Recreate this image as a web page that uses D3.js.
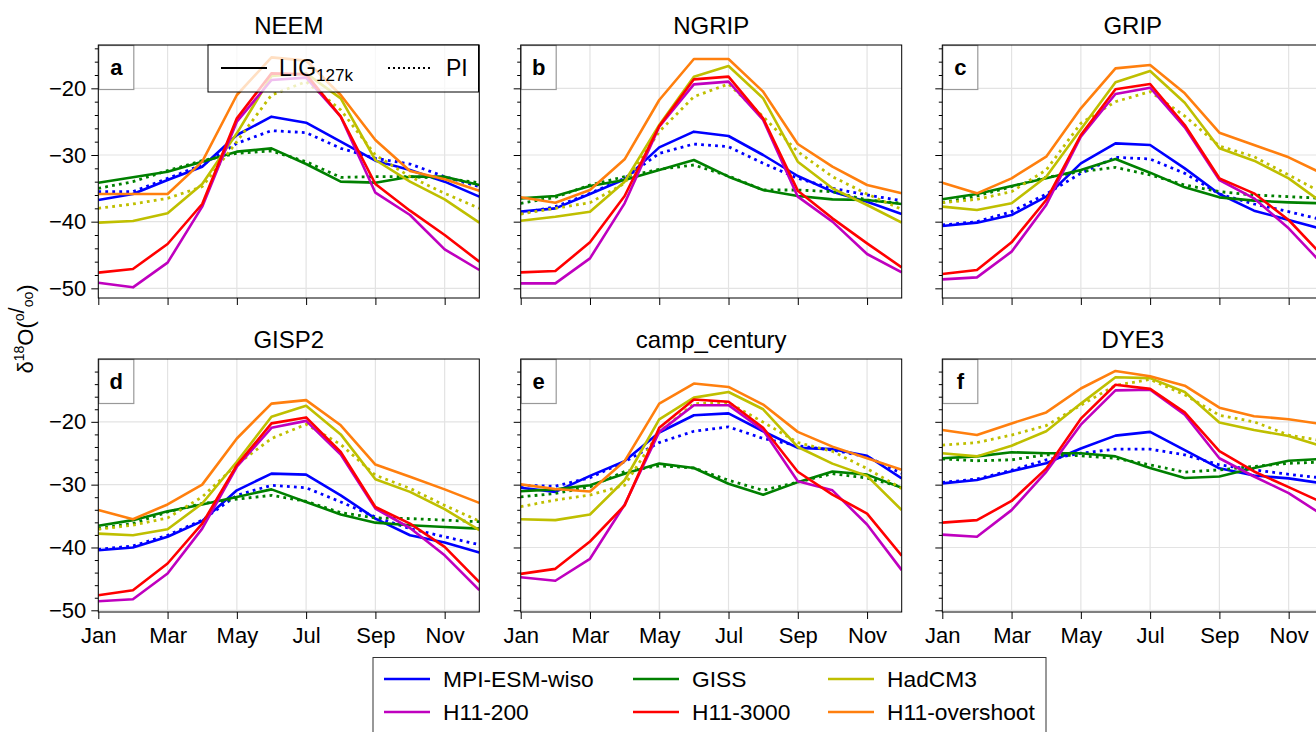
<!DOCTYPE html>
<html><head><meta charset="utf-8">
<script src="https://cdn.jsdelivr.net/npm/d3@7"></script>
<style>
body{margin:0;background:#fff;}
svg{display:block;font-family:"Liberation Sans",Arial,Helvetica,sans-serif;}
</style></head>
<body><svg id="chart" width="1316" height="732"></svg>
<script>
const months = ["Jan","Feb","Mar","Apr","May","Jun","Jul","Aug","Sep","Oct","Nov","Dec"];
const tickMonths = ["Jan","Mar","May","Jul","Sep","Nov"];
const sites = ["NEEM","NGRIP","GRIP","GISP2","camp_century","DYE3"];
const letters = ["a","b","c","d","e","f"];
const models = ["MPI-ESM-wiso","GISS","HadCM3","H11-200","H11-3000","H11-overshoot"];
const colors = ["#0000ff","#008000","#bfbf00","#bf00bf","#ff0000","#ff7f0e"];
const yTicksMajor = [-20,-30,-40,-50];

// LIG127k rows: MPI, GISS, HadCM3, H11-200, H11-3000, H11-overshoot
const neemLIG = [
 [-36.75,-35.85,-33.75,-31.75,-27,-24.25,-25.15,-28,-30.85,-32.25,-34,-36.25],
 [-34.15,-33.35,-32.5,-31,-29.5,-29,-31.35,-34,-34.15,-33.25,-33.25,-34.5],
 [-40.15,-39.9,-38.75,-34.35,-26.75,-18.15,-17.75,-21.5,-30.75,-34,-36.65,-40.15],
 [-49.15,-49.85,-46.15,-37.75,-25,-18.75,-18.4,-24.25,-35.65,-39,-44.15,-47.25],
 [-47.65,-47.1,-43.35,-37.35,-24.5,-17.75,-17.9,-24.25,-34.35,-38.35,-42,-46],
 [-35.85,-35.85,-35.85,-31,-21,-15.35,-15.85,-21,-27.75,-32.4,-33.65,-35.35]
];
// PI rows: MPI, GISS, HadCM3
const neemPI = [
 [-35.5,-35.5,-33.5,-31.5,-28.25,-26.35,-26.65,-29,-30.5,-31.35,-33.25,-34.75],
 [-35,-34,-32.35,-30.85,-29.75,-29.4,-31,-33.35,-33.25,-33.25,-33.5,-34.15],
 [-38,-37.35,-36.5,-34.75,-28,-21,-19,-23.25,-30,-33.25,-35.75,-38]
];
const ngripLIG = [
 [-38.5,-38,-35.85,-33.65,-28.85,-26.5,-27.15,-30,-33.15,-35.5,-37,-38.85],
 [-36.5,-36.15,-34.65,-33.75,-32.25,-30.75,-33.25,-35.25,-36.15,-36.65,-36.75,-37.35],
 [-39.85,-39.25,-38.5,-34,-25.5,-18.25,-16.65,-21.5,-31,-35,-37.5,-40.15],
 [-49.25,-49.25,-45.5,-37.25,-25.75,-19.4,-19,-24.75,-36.25,-40,-44.85,-47.6],
 [-47.6,-47.4,-43.1,-36.15,-25.65,-18.65,-18.25,-24.5,-35.35,-39.5,-43.25,-46.85],
 [-36.35,-37.15,-35.25,-30.65,-21.75,-15.6,-15.6,-20.5,-28.35,-31.75,-34.5,-35.75]
];
const ngripPI = [
 [-38.75,-37.75,-35.75,-33.5,-29.75,-28.35,-28.75,-31.25,-33.5,-35,-36,-36.85],
 [-37.25,-36.35,-34.5,-33.25,-32.15,-31.5,-33.15,-35.25,-35.25,-35.5,-36.75,-37.25],
 [-38.85,-38,-37.15,-34.25,-26.5,-21.25,-19.35,-24.25,-29.5,-33.25,-35.85,-38.15]
];
const gripLIG = [
 [-40.65,-40.15,-39,-36.25,-31.25,-28.25,-28.5,-32,-35.85,-38.35,-39.75,-41.15],
 [-36.65,-35.85,-34.65,-33.5,-32.25,-30.6,-32.65,-34.85,-36.35,-36.85,-37.1,-37.25],
 [-37.75,-38.25,-37.25,-33.25,-26.15,-19.1,-17.4,-22.15,-29,-30.85,-33.5,-37.25],
 [-48.65,-48.35,-44.5,-37.5,-27.25,-20.85,-19.9,-25.85,-33.75,-36.5,-41,-46.5],
 [-47.85,-47.25,-43.1,-36.75,-27,-20.15,-19.35,-25.5,-33.5,-35.75,-39.75,-45.25],
 [-34.15,-35.75,-33.5,-30.25,-23,-17,-16.5,-20.75,-26.65,-28.5,-30.35,-32.85]
];
const gripPI = [
 [-40.5,-40,-38.5,-35.85,-32.75,-30.35,-30.6,-32.75,-35.85,-37.35,-38.5,-39.75],
 [-37.15,-36.15,-34.75,-33.35,-32.5,-31.85,-33,-34.5,-35.5,-36,-36.25,-36.5],
 [-37.15,-36.65,-35.5,-32.25,-25.25,-22,-20.5,-24.15,-28.65,-30.25,-33,-35.75]
];
const gisp2LIG = [
 [-40.45,-40,-38.3,-35.8,-30.9,-28.25,-28.4,-31.7,-35.4,-38.05,-39.2,-40.8],
 [-36.55,-35.65,-34.25,-33.15,-31.95,-30.75,-32.75,-34.75,-36.05,-36.45,-36.75,-37],
 [-37.8,-38.05,-37.1,-33,-26.35,-19.2,-17.45,-22,-29.15,-31.15,-33.9,-37.25],
 [-48.55,-48.25,-44.15,-37,-27.15,-20.95,-19.85,-25.2,-33.8,-36.9,-41.25,-46.8],
 [-47.6,-46.8,-42.55,-36.2,-26.9,-20.25,-19.3,-24.8,-33.55,-36.2,-39.9,-45.5],
 [-34.05,-35.5,-33.15,-30,-22.65,-17.1,-16.55,-20.55,-26.8,-28.75,-30.75,-32.9]
];
const gisp2PI = [
 [-40.3,-39.75,-38.05,-35.65,-31.7,-30.1,-30.5,-32.75,-35.15,-37,-38.3,-39.55],
 [-37,-36.2,-34.35,-33,-32.3,-31.7,-32.65,-34.45,-35.3,-35.4,-35.65,-35.9],
 [-37.1,-36.45,-35.3,-31.95,-26.8,-22.65,-20.4,-23.6,-28.5,-30.6,-33.3,-35.8]
];
const campLIG = [
 [-30.5,-31.15,-28.6,-26.25,-21.7,-18.95,-18.65,-21.5,-24.15,-24.35,-25.4,-29],
 [-31.05,-30.75,-30.1,-28.25,-26.65,-27.35,-29.85,-31.6,-29.6,-27.9,-28.4,-30.5],
 [-35.5,-35.65,-34.75,-29.3,-19.6,-16.15,-15.25,-18,-24,-26.65,-28.6,-34.05],
 [-44.75,-45.3,-41.8,-33.2,-21.6,-17.35,-17.35,-21.35,-29.45,-30.9,-36.35,-43.6],
 [-44.2,-43.4,-39.05,-33.3,-20.95,-16.45,-16.8,-20.95,-27.95,-31.6,-34.6,-41.3],
 [-29.95,-30.7,-31.1,-26.25,-17.1,-13.9,-14.45,-17.25,-21.6,-23.95,-25.8,-27.65]
];
const campPI = [
 [-30.1,-30.25,-28.9,-26.35,-23.3,-21.5,-20.8,-22.65,-23.8,-24.5,-25.55,-28.2],
 [-31.95,-31.4,-30.35,-27.9,-27,-27.35,-29.3,-30.9,-29.6,-28.25,-28.95,-30.35],
 [-33.5,-32.45,-31.65,-30.1,-21.6,-17.1,-16.95,-20.05,-23.3,-24.7,-27.45,-30.6]
];
const dye3LIG = [
 [-29.8,-29.25,-27.85,-26.6,-24.25,-22.2,-21.6,-24.5,-27.4,-28.55,-29,-29.8],
 [-25.8,-25.5,-24.85,-25,-25,-25.5,-27.35,-28.95,-28.7,-27.35,-26.2,-25.9],
 [-25,-25.5,-23.8,-21.5,-17.1,-12.9,-13.05,-15.25,-20.1,-21.3,-22.25,-23.95],
 [-37.95,-38.3,-34.05,-27.95,-20.45,-15,-14.9,-18.85,-25.8,-28.7,-31.35,-34.9],
 [-36.05,-35.65,-32.6,-27.45,-19.5,-14.1,-14.75,-18.5,-24.65,-27.9,-30.4,-32.9],
 [-21.3,-22.1,-20.25,-18.5,-14.7,-11.9,-12.75,-14.25,-17.75,-19.1,-19.6,-20.4]
];
const dye3PI = [
 [-29.65,-29.1,-27.7,-26.05,-25,-24.35,-24.35,-25.25,-26.85,-27.65,-28.35,-28.95],
 [-25.9,-26.2,-26.05,-25.25,-25.4,-25.8,-26.85,-28,-27.65,-27.1,-26.6,-26.4],
 [-23.7,-23.3,-22.1,-20.6,-17.35,-14.2,-13.25,-15.7,-18.95,-20,-22.1,-23.05]
];

const ligData = [neemLIG, ngripLIG, gripLIG, gisp2LIG, campLIG, dye3LIG];
const piData = [neemPI, ngripPI, gripPI, gisp2PI, campPI, dye3PI];

const svg = d3.select("#chart");
const pw = 381, ph = 253;
const colX = [98.3, 520.7, 942.3];
const rowY = [45, 359];
const rowDomain = [[-51.45, -13.5], [-50.27, -10]];
const FONT = "Liberation Sans, Arial, sans-serif";

const line = (x, y) => d3.line().x((d, i) => x(i)).y(d => y(d));
const panelGroups = [];

sites.forEach((site, k) => {
  const r = Math.floor(k / 3), c = k % 3;
  const x0 = colX[c], y0 = rowY[r];
  const g = svg.append("g");
  panelGroups.push(g);
  const x = d3.scaleLinear().domain([0, 11]).range([x0, x0 + pw]);
  const y = d3.scaleLinear().domain(rowDomain[r]).range([y0 + ph, y0]);
  const tickIdx = tickMonths.map(m => months.indexOf(m));

  // grid
  g.append("g").selectAll("line").data(tickIdx).join("line")
    .attr("x1", d => x(d)).attr("x2", d => x(d)).attr("y1", y0).attr("y2", y0 + ph)
    .attr("stroke", "#e3e3e3").attr("stroke-width", 1.2);
  g.append("g").selectAll("line").data(yTicksMajor).join("line")
    .attr("x1", x0).attr("x2", x0 + pw).attr("y1", d => y(d)).attr("y2", d => y(d))
    .attr("stroke", "#e3e3e3").attr("stroke-width", 1.2);

  // letter box (under lines)
  g.append("rect").attr("x", x0 + 0.5).attr("y", y0 + 0.5).attr("width", 35).attr("height", 44)
    .attr("fill", "#fff").attr("stroke", "#999").attr("stroke-width", 1.2);
  g.append("text").attr("x", x0 + 18).attr("y", y0 + 30).attr("text-anchor", "middle")
    .attr("font-size", 22).attr("font-weight", "bold").attr("fill", "#000").text(letters[k]);

  const clipId = "clip" + k;
  svg.append("clipPath").attr("id", clipId).append("rect")
    .attr("x", x0).attr("y", y0).attr("width", pw).attr("height", ph);
  const lines = g.append("g").attr("clip-path", `url(#${clipId})`);
  const L = line(x, y);
  ligData[k].forEach((vals, m) => {
    lines.append("path").attr("d", L(vals)).attr("fill", "none")
      .attr("stroke", colors[m]).attr("stroke-width", 2.6).attr("stroke-linejoin", "round");
    if (m < 3) {
      lines.append("path").attr("d", L(piData[k][m])).attr("fill", "none")
        .attr("stroke", colors[m]).attr("stroke-width", 2.8)
        .attr("stroke-dasharray", "2.8,4.2");
    }
  });

  // frame
  g.append("rect").attr("x", x0).attr("y", y0).attr("width", pw).attr("height", ph)
    .attr("fill", "none").attr("stroke", "#000").attr("stroke-width", 1);

  // y axes
  const minor = d3.range(-50, -9, 2).filter(v => v % 10 !== 0 && v >= rowDomain[r][0] && v <= rowDomain[r][1]);
  const ya = g.append("g").attr("transform", `translate(${x0},0)`)
    .call(d3.axisLeft(y).tickValues(yTicksMajor).tickSize(7).tickPadding(5)
      .tickFormat(c === 0 ? d3.format("d") : ""));
  ya.select(".domain").remove();
  ya.selectAll("text").attr("font-size", 22).attr("fill", "#000").attr("font-family", FONT);
  const ym = g.append("g").attr("transform", `translate(${x0},0)`)
    .call(d3.axisLeft(y).tickValues(minor).tickSize(3.5).tickFormat(""));
  ym.select(".domain").remove();

  // x axis
  const xa = g.append("g").attr("transform", `translate(0,${y0 + ph})`)
    .call(d3.axisBottom(x).tickValues(tickIdx).tickSize(7).tickPadding(8)
      .tickFormat(r === 1 ? (d => months[d]) : ""));
  xa.select(".domain").remove();
  xa.selectAll("text").attr("font-size", 22).attr("fill", "#000").attr("font-family", FONT);

  // title
  svg.append("text").attr("x", x0 + pw / 2).attr("y", y0 - 11)
    .attr("text-anchor", "middle").attr("font-size", 24).attr("fill", "#000").text(site);
});

// style legend inside panel a (semi-transparent, over lines)
const lg = panelGroups[0].append("g");
lg.append("rect").attr("x", 208).attr("y", 45).attr("width", 270.5).attr("height", 47)
  .attr("fill", "#fff").attr("fill-opacity", 0.75).attr("stroke", "#000").attr("stroke-width", 1);
lg.append("line").attr("x1", 221).attr("x2", 267).attr("y1", 68).attr("y2", 68)
  .attr("stroke", "#000").attr("stroke-width", 2);
const lt = lg.append("text").attr("x", 279).attr("y", 76).attr("font-size", 23).attr("fill", "#000");
lt.append("tspan").text("LIG");
lt.append("tspan").attr("font-size", 17).attr("dy", 5).text("127k");
lg.append("line").attr("x1", 388).attr("x2", 433).attr("y1", 68).attr("y2", 68)
  .attr("stroke", "#000").attr("stroke-width", 2).attr("stroke-dasharray", "2,3");
lg.append("text").attr("x", 446).attr("y", 76).attr("font-size", 23).attr("fill", "#000").text("PI");

// bottom legend
const bl = svg.append("g");
bl.append("rect").attr("x", 373).attr("y", 657.5).attr("width", 673).attr("height", 90)
  .attr("fill", "#fff").attr("stroke", "#333").attr("stroke-width", 1);
const legX = [384, 633, 828];
const legY = [679, 712];
models.forEach((m, i) => {
  const cx = legX[i % 3], cy = legY[Math.floor(i / 3)];
  bl.append("line").attr("x1", cx).attr("x2", cx + 46).attr("y1", cy).attr("y2", cy)
    .attr("stroke", colors[i]).attr("stroke-width", 2.6);
  bl.append("text").attr("x", cx + 59).attr("y", cy + 8).attr("font-size", 22.8)
    .attr("fill", "#000").text(m);
});

// y label
const yl = svg.append("text").attr("transform", "translate(33,329) rotate(-90)")
  .attr("text-anchor", "middle").attr("font-size", 22).attr("fill", "#000");
yl.append("tspan").text("δ");
yl.append("tspan").attr("font-size", 14).attr("dy", -9).text("18");
yl.append("tspan").attr("dy", 9).text("O(");
yl.append("tspan").attr("font-size", 14).attr("dy", -9).text("o");
yl.append("tspan").attr("dy", 0).text("/");
yl.append("tspan").attr("font-size", 14).attr("dy", 9).text("oo");
yl.append("tspan").attr("dy", 0).text(")");
</script></body></html>
